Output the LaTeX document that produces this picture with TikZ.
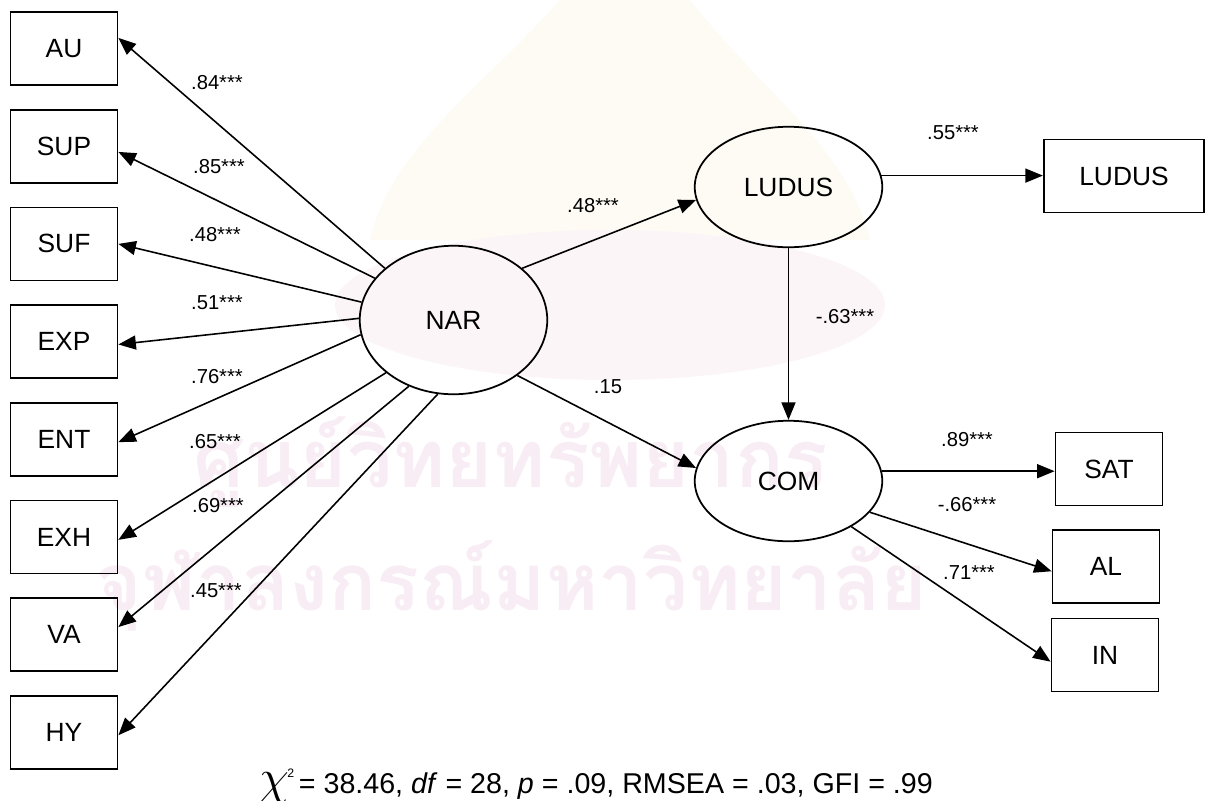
\documentclass[tikz,border=0pt]{standalone}
\usepackage{fontspec}
\setmainfont{Liberation Sans}
\newfontfamily\thaifont[Script=Thai]{Loma}
\usepackage{graphicx}
\usetikzlibrary{arrows.meta,shapes.geometric}

\definecolor{wmpink}{RGB}{248,237,244}
\definecolor{wmrose}{RGB}{252,245,248}
\definecolor{wmcream}{RGB}{253,251,244}

\tikzset{
  obs/.style={draw, line width=1pt, minimum width=2.14cm, minimum height=1.46cm,
    inner sep=0pt, font=\fontsize{15}{18}\selectfont},
  lat/.style={draw, ellipse, line width=1pt, minimum width=3.75cm, minimum height=2.41cm,
    inner sep=0pt, font=\fontsize{15}{18}\selectfont},
  arr/.style={line width=0.9pt, -{Triangle[length=0.35cm,width=0.28cm]}},
  coef/.style={font=\fontsize{11.5}{14}\selectfont, inner sep=0pt}
}

\begin{document}
\begin{tikzpicture}[x=0.2mm, y=-0.2mm]
  \fill[white] (0,0) rectangle (1212,800);
  \useasboundingbox (0,0) rectangle (1212,800);
  % watermark
  \fill[wmcream] (560,0) -- (690,0) .. controls (760,90) and (850,150) .. (870,240)
    -- (370,240) .. controls (390,150) and (480,90) .. (560,0);
  \fill[wmrose] (610,305) ellipse [x radius=5.5cm, y radius=1.5cm];
  \node[anchor=base west, text=wmpink, inner sep=0pt] (wmtop) at (193,487)
    {\resizebox{12.68cm}{!}{\thaifont\bfseries ศูนย์วิทยทรัพยากร}};
  \node[anchor=base west, text=wmpink, inner sep=0pt] (wmbot) at (95,610)
    {\resizebox{16.64cm}{!}{\thaifont\bfseries จุฬาลงกรณ์มหาวิทยาลัย}};

  % latent variables
  \node[lat, minimum height=2.97cm] (nar) at (453.5,320) {NAR};
  \node[lat] (ludus) at (788.5,187) {LUDUS};
  \node[lat] (com) at (788.5,481) {COM};

  % observed variables
  \foreach \nm/\lbl [count=\i from 0] in {au/AU,sup/SUP,suf/SUF,exp/EXP,ent/ENT,exh/EXH,va/VA,hy/HY}
    \node[obs] (\nm) at (64,48.5+97.7*\i) {\lbl};
  \node[obs, minimum width=3.21cm] (ludbox) at (1124,176) {LUDUS};
  \node[obs] (sat) at (1109,469) {SAT};
  \node[obs] (al) at (1106,566.5) {AL};
  \node[obs] (inv) at (1105,655) {IN};

  % loadings of NAR
  \foreach \nm/\a/\b in {au/143/11,sup/152/-6,suf/169/0,exp/179/-3,ent/189/-3,exh/218/-3,va/236/8,hy/258/-3}
    \draw[arr] (nar.\a) -- (\nm.\b);
  \foreach \v/\x/\y in {.84/217/83,.85/219/167,.48/215/235,.51/217/303,.76/217/377,.65/215/442,.69/218/506,.45/216/591}
    \node[coef] at (\x,\y) {\v***};

  % structural paths
  \draw[arr] (nar.37) -- (ludus.188);
  \draw[arr] (nar.-41) -- (com.172);
  \draw[arr] (ludus.south) -- (com.north);
  \draw[arr] (ludus.7) -- (ludus.7 -| ludbox.west);
  \draw[arr] (com.6) -- (com.6 -| sat.west);
  \draw[arr] (com.-21) -- (al.185);
  \draw[arr] (com.-36) -- (inv.187);
  \node[coef] at (593,206) {.48***};
  \node[coef] at (608,387) {.15};
  \node[coef] at (953,133) {.55***};
  \node[coef] at (845,317) {-.63***};
  \node[coef] at (967,440) {.89***};
  \node[coef] at (967,505) {-.66***};
  \node[coef] at (969,573) {.71***};

  % fit indices
  \node[anchor=base, font=\fontsize{16.3}{19}\selectfont] (fit) at (596,793)
    {\scalebox{1.6}{$\chi$}\kern-1pt\raisebox{9pt}{\fontsize{7}{7}\selectfont 2}\,= 38.46, \textit{df} = 28, \textit{p} = .09, RMSEA = .03, GFI = .99};
\end{tikzpicture}
\end{document}
